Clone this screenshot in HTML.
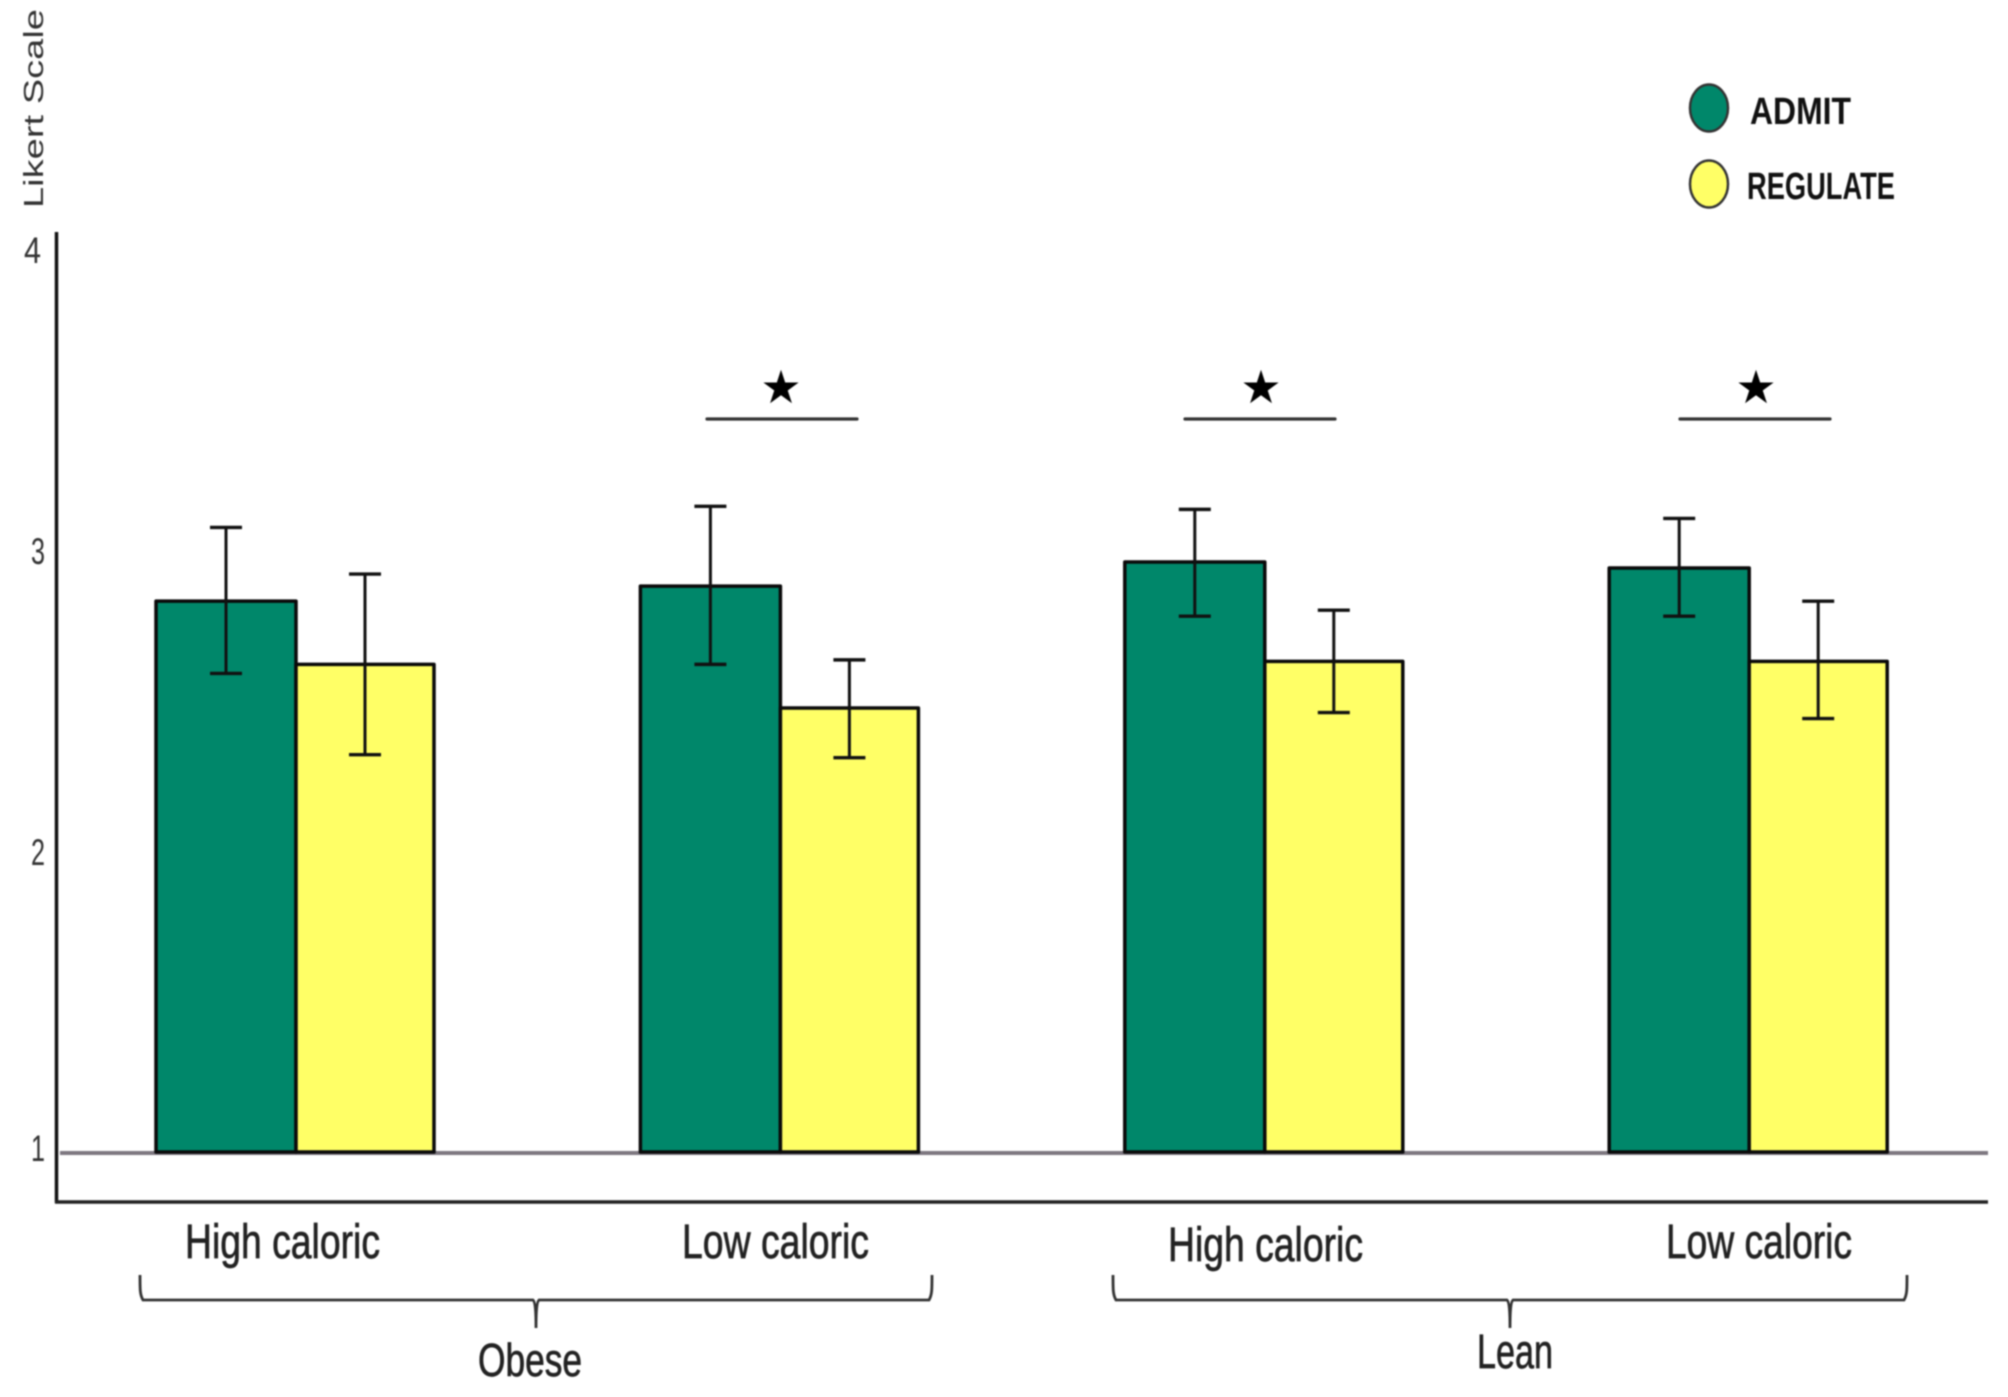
<!DOCTYPE html>
<html lang="en">
<head>
<meta charset="utf-8">
<title>Likert Scale by Food Category</title>
<style>
html,body{margin:0;padding:0;background:#fff;}
body{width:2008px;height:1397px;overflow:hidden;}
svg{display:block;filter:blur(0.8px);}
text{font-family:"Liberation Sans",sans-serif;}
.lbl{stroke:#222;stroke-width:0.7px;}
</style>
</head>
<body>
<svg id="chart" xmlns="http://www.w3.org/2000/svg" width="2008" height="1397" viewBox="0 0 2008 1397">
  <rect x="0" y="0" width="2008" height="1397" fill="#ffffff"/>
  <text transform="translate(43,208) rotate(-90)" font-size="28" fill="#333" textLength="199" lengthAdjust="spacingAndGlyphs">Likert Scale</text>
  <line x1="60" y1="1153" x2="1988" y2="1153" stroke="#7d7780" stroke-width="4"/>
  <g id="marks"></g>
  <line x1="56.5" y1="232" x2="56.5" y2="1203" stroke="#111" stroke-width="3.5"/>
  <line x1="55" y1="1202" x2="1988" y2="1202" stroke="#222" stroke-width="3.5"/>
  <g id="ticks"></g>

  <g>
    <line x1="707" y1="419" x2="857" y2="419" stroke="#333" stroke-width="3.2" stroke-linecap="round"/>
    <text x="781" y="403" text-anchor="middle" font-size="46" fill="#000" style="font-family:'DejaVu Sans',sans-serif">★</text>
    <line x1="1185" y1="419" x2="1335" y2="419" stroke="#333" stroke-width="3.2" stroke-linecap="round"/>
    <text x="1261" y="403" text-anchor="middle" font-size="46" fill="#000" style="font-family:'DejaVu Sans',sans-serif">★</text>
    <line x1="1680" y1="419" x2="1830" y2="419" stroke="#333" stroke-width="3.2" stroke-linecap="round"/>
    <text x="1756" y="403" text-anchor="middle" font-size="46" fill="#000" style="font-family:'DejaVu Sans',sans-serif">★</text>
  </g>

  <text class="lbl" x="185" y="1258" font-size="48" fill="#222" textLength="195" lengthAdjust="spacingAndGlyphs">High caloric</text>
  <text class="lbl" x="682" y="1258" font-size="48" fill="#222" textLength="187" lengthAdjust="spacingAndGlyphs">Low caloric</text>
  <text class="lbl" x="1168" y="1261" font-size="48" fill="#222" textLength="195" lengthAdjust="spacingAndGlyphs">High caloric</text>
  <text class="lbl" x="1666" y="1258" font-size="48" fill="#222" textLength="186" lengthAdjust="spacingAndGlyphs">Low caloric</text>

  <path d="M140 1275 C140 1290 140 1295 143 1300 L533 1300 Q536 1302 536 1328 Q536 1302 539 1300 L929 1300 C932 1295 932 1290 932 1275" fill="none" stroke="#333" stroke-width="2.8"/>
  <path d="M1113 1275 C1113 1290 1113 1295 1116 1300 L1507 1300 Q1510 1302 1510 1328 Q1510 1302 1513 1300 L1904 1300 C1907 1295 1907 1290 1907 1275" fill="none" stroke="#333" stroke-width="2.8"/>
  <text class="lbl" x="478" y="1376" font-size="46" fill="#222" textLength="104" lengthAdjust="spacingAndGlyphs">Obese</text>
  <text class="lbl" x="1477" y="1368" font-size="48" fill="#222" textLength="76" lengthAdjust="spacingAndGlyphs">Lean</text>

  <g>
    <ellipse cx="1709" cy="108" rx="19" ry="23.5" fill="#00876a" stroke="#333" stroke-width="2.5"/>
    <text x="1750" y="124" font-size="38" font-weight="bold" fill="#111" textLength="101" lengthAdjust="spacingAndGlyphs">ADMIT</text>
    <ellipse cx="1709" cy="184" rx="19" ry="23.5" fill="#ffff66" stroke="#333" stroke-width="2.5"/>
    <text x="1747" y="199" font-size="38" font-weight="bold" fill="#111" textLength="148" lengthAdjust="spacingAndGlyphs">REGULATE</text>
  </g>
</svg>
<script>
const categories = ["Obese High caloric", "Obese Low caloric", "Lean High caloric", "Lean Low caloric"];
const admitValues = [2.83, 2.88, 2.96, 2.94];
const admitHigh = [3.075, 3.145, 3.135, 3.105];
const admitLow = [2.59, 2.62, 2.78, 2.78];
const regulateValues = [2.62, 2.475, 2.63, 2.63];
const regulateHigh = [2.92, 2.635, 2.80, 2.83];
const regulateLow = [2.32, 2.31, 2.46, 2.44];
const yTickLabels = [1, 2, 3, 4];

const NS = "http://www.w3.org/2000/svg";
const marks = document.getElementById("marks");
const ticks = document.getElementById("ticks");

function yScale(v) { return 1152 - (v - 1) * 301; }
function xBand(i) { return 156 + i * 484.4; }
const admitWidth = 140;
const regulateWidth = 138;
const capHalf = 16;

function make(tag, parent, attrs) {
  const el = document.createElementNS(NS, tag);
  for (const k in attrs) el.setAttribute(k, attrs[k]);
  parent.appendChild(el);
  return el;
}

function drawBar(x, w, v, fill, parent) {
  return make("rect", parent, {
    x: x, y: yScale(v), width: w, height: yScale(1) - yScale(v),
    fill: fill, stroke: "#0a0a0a", "stroke-width": 3.5, "stroke-linejoin": "round"
  });
}

function drawError(cx, hi, lo, parent) {
  const g = make("g", parent, {});
  const stem = make("line", g, { x1: cx, x2: cx, y1: yScale(hi), y2: yScale(lo), stroke: "#111", "stroke-width": 3 });
  
  
  const top = make("line", g, { x1: cx - capHalf, x2: cx + capHalf, y1: yScale(hi), y2: yScale(hi), stroke: "#111", "stroke-width": 3.4 });
  
  
  const bottom = make("line", g, { x1: cx - capHalf, x2: cx + capHalf, y1: yScale(lo), y2: yScale(lo), stroke: "#111", "stroke-width": 3.4 });
  
  
  return g;
}

categories.forEach(function (cat, i) {
  const x0 = xBand(i);
  const group = make("g", marks, {});
  
  

  const a = drawBar(x0, admitWidth, admitValues[i], "#00876a", group);
  
  
  const r = drawBar(x0 + admitWidth, regulateWidth, regulateValues[i], "#ffff66", group);
  
  

  const ea = drawError(x0 + admitWidth / 2, admitHigh[i], admitLow[i], group);
  
  
  const er = drawError(x0 + admitWidth + regulateWidth / 2, regulateHigh[i], regulateLow[i], group);
  
  
});

yTickLabels.forEach(function (t) {
  const isOne = t === 1;
  const isFour = t === 4;
  const label = make("text", ticks, {
    x: isFour ? 24 : 31,
    y: yScale(t) + (isOne ? 9 : 14),
    "font-size": 37,
    fill: "#333",
    textLength: isFour ? 17 : 14,
    lengthAdjust: "spacingAndGlyphs"
  });
  label.textContent = String(t);
  
  
});
</script>
</body>
</html>
